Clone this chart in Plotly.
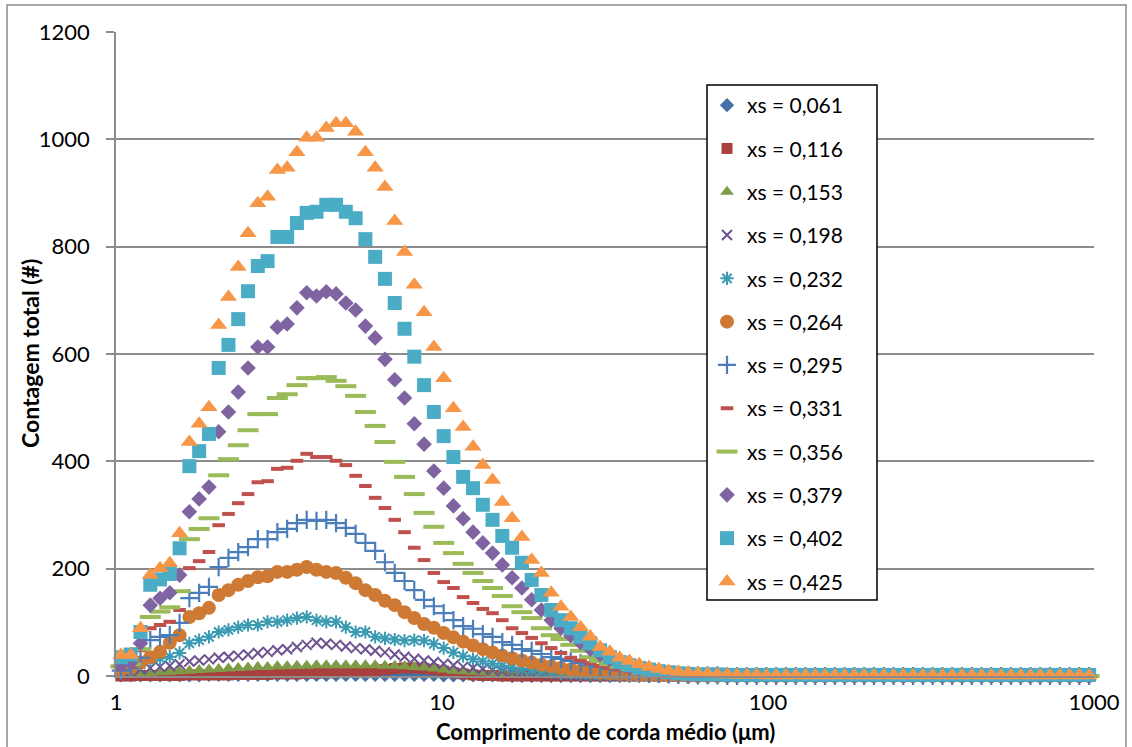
import plotly.graph_objects as go

# Chord length channels (µm), log-spaced
x_chord = [1.035, 1.109, 1.189, 1.274, 1.365, 1.462, 1.567, 1.679, 1.799, 1.928,
           2.065, 2.213, 2.371, 2.541, 2.723, 2.917, 3.126, 3.350, 3.589, 3.846,
           4.121, 4.416, 4.732, 5.070, 5.433, 5.821, 6.237, 6.683, 7.161, 7.674,
           8.222, 8.810, 9.441, 10.12, 10.84, 11.61, 12.45, 13.34, 14.29, 15.31,
           16.41, 17.58, 18.84, 20.18, 21.63, 23.17, 24.83, 26.61, 28.51, 30.55,
           32.73, 35.08, 37.58, 40.27, 43.15, 46.24, 49.55, 53.09, 56.89, 60.95,
           65.31, 69.98, 74.99, 80.35, 86.10, 92.26, 98.86, 105.9, 113.5, 121.6,
           130.3, 139.6, 149.6, 160.3, 171.8, 184.1, 197.2, 211.3, 226.5, 242.7,
           260.0, 278.6, 298.5, 319.9, 342.8, 367.3, 393.6, 421.7, 451.9, 484.2,
           518.8, 555.9, 595.7, 638.3, 683.9, 732.8, 785.2, 841.4, 901.6, 966.1]

xs_061 = [1, 1, 1, 1, 1, 1, 1, 1, 1, 2,
          2, 2, 2, 2, 2, 2, 2, 2, 2, 2,
          2, 2, 2, 2, 2, 2, 2, 2, 2, 2,
          2, 2, 2, 1, 1, 1, 1, 1, 1, 1,
          0, 0, 0, 0, 0, 0, 0, 0, 0, 0,
          0, 0, 0, 0, 0, 0, 0, 0, 0, 0,
          0, 0, 0, 0, 0, 0, 0, 0, 0, 0,
          0, 0, 0, 0, 0, 0, 0, 0, 0, 0,
          0, 0, 0, 0, 0, 0, 0, 0, 0, 0,
          0, 0, 0, 0, 0, 0, 0, 0, 0, 0]

xs_116 = [0, 0, 1, 1, 1, 1, 1, 2, 2, 2,
          2, 2, 3, 3, 3, 3, 4, 4, 4, 5,
          5, 6, 6, 7, 8, 9, 10, 12, 14, 15,
          15, 14, 12, 9, 6, 4, 2, 1, 1, 0,
          0, 0, 0, 0, 0, 0, 0, 0, 0, 0,
          0, 0, 0, 0, 0, 0, 0, 0, 0, 0,
          0, 0, 0, 0, 0, 0, 0, 0, 0, 0,
          0, 0, 0, 0, 0, 0, 0, 0, 0, 0,
          0, 0, 0, 0, 0, 0, 0, 0, 0, 0,
          0, 0, 0, 0, 0, 0, 0, 0, 0, 0]

xs_153 = [3, 4, 5, 6, 7, 8, 9, 10, 11, 12,
          13, 14, 15, 16, 17, 17, 18, 18, 19, 19,
          20, 20, 20, 20, 20, 20, 20, 19, 19, 18,
          17, 16, 14, 12, 10, 9, 8, 7, 6, 5,
          4, 3, 3, 2, 2, 1, 1, 1, 0, 0,
          0, 0, 0, 0, 0, 0, 0, 0, 0, 0,
          0, 0, 0, 0, 0, 0, 0, 0, 0, 0,
          0, 0, 0, 0, 0, 0, 0, 0, 0, 0,
          0, 0, 0, 0, 0, 0, 0, 0, 0, 0,
          0, 0, 0, 0, 0, 0, 0, 0, 0, 0]

xs_198 = [5, 8, 12, 15, 17, 19, 22, 27, 29, 31,
          34, 36, 38, 40, 43, 45, 48, 50, 54, 58,
          62, 60, 58, 55, 52, 50, 47, 44, 40, 36,
          32, 29, 26, 23, 20, 17, 15, 13, 11, 9,
          7, 6, 5, 4, 3, 2, 2, 1, 1, 1,
          0, 0, 0, 0, 0, 0, 0, 0, 0, 0,
          0, 0, 0, 0, 0, 0, 0, 0, 0, 0,
          0, 0, 0, 0, 0, 0, 0, 0, 0, 0,
          0, 0, 0, 0, 0, 0, 0, 0, 0, 0,
          0, 0, 0, 0, 0, 0, 0, 0, 0, 0]

xs_232 = [10, 14, 22, 30, 33, 36, 43, 61, 67, 73,
          82, 86, 91, 95, 95, 101, 101, 104, 108, 110,
          104, 101, 101, 91, 82, 82, 73, 70, 68, 66,
          67, 66, 60, 52, 44, 37, 31, 27, 23, 19,
          16, 13, 11, 9, 7, 5, 4, 3, 2, 2,
          1, 1, 1, 0, 0, 0, 0, 0, 0, 0,
          0, 0, 0, 0, 0, 0, 0, 0, 0, 0,
          0, 0, 0, 0, 0, 0, 0, 0, 0, 0,
          0, 0, 0, 0, 0, 0, 0, 0, 0, 0,
          0, 0, 0, 0, 0, 0, 0, 0, 0, 0]

xs_264 = [12, 15, 25, 35, 45, 62, 76, 110, 117, 127,
          151, 160, 170, 177, 184, 186, 194, 194, 198, 203,
          198, 194, 192, 183, 173, 160, 151, 140, 132, 119,
          108, 97, 90, 80, 72, 64, 57, 50, 44, 38,
          33, 29, 25, 21, 18, 15, 12, 10, 8, 6,
          5, 4, 3, 2, 2, 1, 1, 1, 0, 0,
          0, 0, 0, 0, 0, 0, 0, 0, 0, 0,
          0, 0, 0, 0, 0, 0, 0, 0, 0, 0,
          0, 0, 0, 0, 0, 0, 0, 0, 0, 0,
          0, 0, 0, 0, 0, 0, 0, 0, 0, 0]

xs_295 = [10, 14, 34, 67, 73, 76, 99, 145, 155, 166,
          203, 220, 231, 240, 255, 255, 268, 274, 285, 291,
          289, 291, 285, 276, 265, 248, 233, 212, 192, 177,
          160, 142, 130, 117, 104, 93, 88, 78, 73, 63,
          58, 50, 47, 41, 35, 32, 28, 24, 20, 17,
          14, 11, 9, 7, 5, 4, 3, 2, 2, 1,
          1, 1, 0, 0, 0, 0, 0, 0, 0, 0,
          0, 0, 0, 0, 0, 0, 0, 0, 0, 0,
          0, 0, 0, 0, 0, 0, 0, 0, 0, 0,
          0, 0, 0, 0, 0, 0, 0, 0, 0, 0]

xs_331 = [15, 18, 48, 89, 95, 101, 123, 201, 214, 231,
          281, 302, 322, 339, 361, 363, 386, 388, 401, 414,
          408, 408, 401, 393, 373, 354, 332, 313, 291, 268,
          239, 216, 192, 175, 164, 147, 136, 125, 117, 104,
          89, 80, 71, 61, 52, 43, 34, 29, 24, 19,
          15, 12, 9, 7, 5, 4, 3, 2, 2, 1,
          1, 1, 0, 0, 0, 0, 0, 0, 0, 0,
          0, 0, 0, 0, 0, 0, 0, 0, 0, 0,
          0, 0, 0, 0, 0, 0, 0, 0, 0, 0,
          0, 0, 0, 0, 0, 0, 0, 0, 0, 0]

xs_356 = [18, 22, 50, 110, 120, 128, 158, 255, 274, 294,
          374, 404, 430, 458, 488, 488, 518, 525, 542, 555,
          555, 557, 550, 540, 522, 492, 466, 436, 399, 371,
          339, 304, 278, 248, 229, 209, 192, 177, 164, 149,
          130, 119, 108, 89, 76, 69, 58, 47, 35, 28,
          22, 17, 13, 10, 8, 6, 4, 3, 2, 2,
          1, 1, 1, 0, 0, 0, 0, 0, 0, 0,
          0, 0, 0, 0, 0, 0, 0, 0, 0, 0,
          0, 0, 0, 0, 0, 0, 0, 0, 0, 0,
          0, 0, 0, 0, 0, 0, 0, 0, 0, 0]

xs_379 = [20, 25, 61, 132, 145, 155, 188, 306, 330, 352,
          455, 492, 529, 574, 613, 613, 650, 656, 686, 714,
          708, 716, 712, 695, 682, 652, 630, 590, 552, 518,
          470, 432, 382, 350, 317, 293, 268, 248, 229, 207,
          183, 164, 142, 123, 104, 89, 75, 62, 50, 40,
          31, 24, 18, 14, 10, 8, 6, 4, 3, 2,
          2, 1, 1, 1, 0, 0, 0, 0, 0, 0,
          0, 0, 0, 0, 0, 0, 0, 0, 0, 0,
          0, 0, 0, 0, 0, 0, 0, 0, 0, 0,
          0, 0, 0, 0, 0, 0, 0, 0, 0, 0]

xs_402 = [35, 40, 82, 170, 180, 190, 238, 391, 419, 451,
          574, 617, 665, 717, 764, 773, 818, 818, 844, 863,
          865, 878, 878, 865, 853, 814, 781, 740, 695, 647,
          595, 542, 492, 447, 408, 371, 350, 319, 291, 261,
          239, 211, 179, 151, 123, 104, 89, 73, 61, 48,
          35, 26, 20, 15, 12, 9, 7, 5, 4, 3,
          3, 3, 2, 2, 2, 2, 2, 2, 2, 2,
          2, 2, 2, 2, 2, 2, 2, 2, 2, 2,
          2, 2, 2, 2, 2, 2, 2, 2, 2, 2,
          2, 2, 2, 2, 2, 2, 2, 2, 2, 2]

xs_425 = [39, 39, 89, 188, 201, 210, 266, 436, 470, 501,
          654, 706, 762, 825, 881, 893, 943, 947, 976, 1003,
          1003, 1021, 1030, 1030, 1014, 976, 947, 911, 848, 790,
          729, 678, 613, 555, 499, 464, 427, 393, 365, 324,
          294, 259, 216, 192, 155, 129, 110, 91, 73, 54,
          45, 34, 28, 22, 17, 13, 10, 8, 6, 5,
          4, 3, 3, 2, 2, 2, 1, 1, 1, 1,
          1, 1, 1, 1, 1, 1, 1, 1, 1, 1,
          1, 1, 1, 1, 1, 1, 1, 1, 1, 1,
          1, 1, 1, 1, 1, 1, 1, 1, 1, 1]

series_names = ["xs = 0,061", "xs = 0,116", "xs = 0,153", "xs = 0,198",
                "xs = 0,232", "xs = 0,264", "xs = 0,295", "xs = 0,331",
                "xs = 0,356", "xs = 0,379", "xs = 0,402", "xs = 0,425"]
series_values = [xs_061, xs_116, xs_153, xs_198, xs_232, xs_264,
                 xs_295, xs_331, xs_356, xs_379, xs_402, xs_425]

styles = [
    dict(symbol="diamond", size=11, color="#4470A8", lw=0),
    dict(symbol="square", size=11, color="#A9403D", lw=0),
    dict(symbol="triangle-up", size=12, color="#7E9C48", lw=0),
    dict(symbol="x-thin-open", size=10, color="#6D5290", lw=2),
    dict(symbol="asterisk-open", size=11, color="#3A9AB2", lw=2),
    dict(symbol="circle", size=14, color="#CE7A34", lw=0),
    dict(symbol="cross-thin-open", size=13, color="#4A7EBB", lw=2.2),
    dict(symbol="line-ew-open", size=9, color="#C0504D", lw=4),
    dict(symbol="line-ew-open", size=15, color="#9BBB59", lw=4),
    dict(symbol="diamond", size=12, color="#8064A2", lw=0),
    dict(symbol="square", size=14, color="#4BACC6", lw=0),
    dict(symbol="triangle-up", size=15, color="#F79646", lw=0),
]

fig = go.Figure()
for i, (name, vals, st) in enumerate(zip(series_names, series_values, styles)):
    marker = dict(symbol=st["symbol"], size=st["size"], color=st["color"])
    if st["lw"]:
        marker["line"] = dict(width=st["lw"], color=st["color"])
    else:
        marker["line"] = dict(width=0)
    fig.add_trace(go.Scatter(x=x_chord, y=vals, mode="markers", name=name,
                             marker=marker, cliponaxis=False,
                             legendgroup="g%d" % i))

FONT = "Lato, Carlito, Calibri, sans-serif"
W, H = 1132, 747
L, R, T, B = 116, 1094, 32, 676
pw, ph = R - L, B - T

def px(xp):
    return (xp - L) / pw

def py(yp):
    return (B - yp) / ph

fig.update_layout(
    width=W, height=H,
    margin=dict(l=L, r=W - R, t=T, b=H - B, pad=0),
    paper_bgcolor="white", plot_bgcolor="white",
    font=dict(family=FONT, size=21, color="#000000"),
    showlegend=True,
    legend=dict(x=px(707), y=py(85), xanchor="left", yanchor="top",
                borderwidth=0, bgcolor="rgba(0,0,0,0)",
                font=dict(family=FONT, size=21, color="#000000"),
                tracegroupgap=13, traceorder="grouped",
                itemwidth=30),
    xaxis=dict(type="log", range=[0, 3], tickvals=[1, 10, 100, 1000],
               ticktext=["1", "10", "100", "1000"],
               showgrid=False,
               showline=True, linecolor="#8C8C8C", linewidth=1.5,
               ticks="", ticklabelstandoff=6, zeroline=False,
               tickfont=dict(family=FONT, size=22, color="#000000")),
    yaxis=dict(range=[0, 1200], tickvals=[0, 200, 400, 600, 800, 1000, 1200],
               showgrid=True, gridcolor="#8C8C8C", gridwidth=1.5,
               showline=True, linecolor="#8C8C8C", linewidth=1.5,
               ticks="outside", ticklen=8, tickcolor="#8C8C8C", tickwidth=1.5,
               ticklabelstandoff=12, zeroline=False,
               tickfont=dict(family=FONT, size=22, color="#000000")),
    annotations=[
        dict(text="<b>Comprimento de corda médio (μm)</b>", xref="paper", yref="paper",
             x=0.5, y=py(731), xanchor="center", yanchor="middle", showarrow=False,
             font=dict(family=FONT, size=22, color="#000000")),
        dict(text="<b>Contagem total (#)</b>", xref="paper", yref="paper",
             x=px(30), y=0.5, xanchor="center", yanchor="middle", showarrow=False,
             textangle=-90, font=dict(family=FONT, size=23, color="#000000")),
    ],
    shapes=[
        dict(type="rect", xref="paper", yref="paper",
             x0=px(7), x1=px(1126), y0=py(752), y1=py(5),
             line=dict(color="#8C8C8C", width=1.5), fillcolor="rgba(0,0,0,0)",
             layer="below"),
        dict(type="rect", xref="paper", yref="paper",
             x0=px(707), x1=px(877), y0=py(600), y1=py(85),
             line=dict(color="#000000", width=1.5), fillcolor="white",
             layer="above"),
    ],
)

fig.write_html("out.html")
